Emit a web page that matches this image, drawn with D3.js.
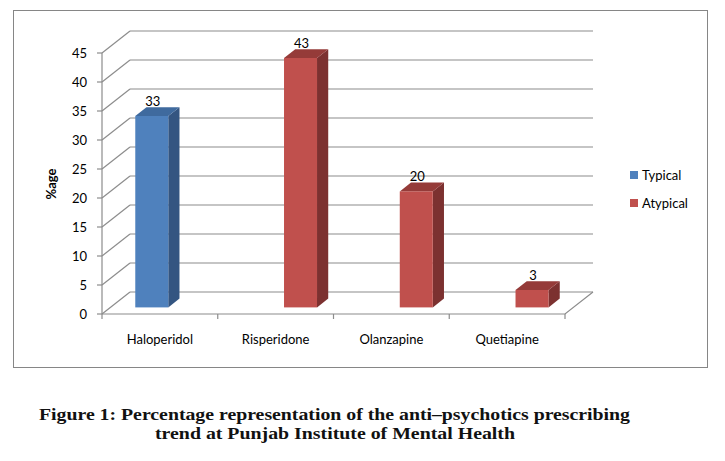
<!DOCTYPE html>
<html>
<head>
<meta charset="utf-8">
<script src="https://cdn.jsdelivr.net/npm/d3@7"></script>
<style>
  body { margin: 0; background: #fff; }
  text { font-family: Lato, "Open Sans", sans-serif; }
</style>
</head>
<body>
<div id="chart"></div>
<script>
const canvas = { w: 725, h: 461 };

// data
const categories = ["Haloperidol", "Risperidone", "Olanzapine", "Quetiapine"];
const series = ["Typical", "Atypical"];
const barSeries = ["Typical", "Atypical", "Atypical", "Atypical"];
const values = [33, 43, 20, 3];
const yTicks = [0, 5, 10, 15, 20, 25, 30, 35, 40, 45];
const captionLines = [
  "Figure 1: Percentage representation of the anti–psychotics prescribing",
  "trend at Punjab Institute of Mental Health"
];

const colors = {
  Typical: { front: "#4F81BD", top: "#3F6A9E", side: "#345581" },
  Atypical: { front: "#C0504D", top: "#953B39", side: "#7C3130" }
};

const fs = 13; // label font size

// 3d depth of the plot box
const depth = { dx: 28, dy: -22 };
const barZ = [0.3, 0.7];

const x = d3.scaleBand()
  .domain(categories)
  .range([102, 565]);

const slot = d3.scaleBand()
  .domain(series)
  .range([x.bandwidth() / 2 - 33, x.bandwidth() / 2 + 33]);

const y = d3.scaleLinear()
  .domain([0, 45])
  .range([314, 53]);

// screen position of (front x, value, depth fraction)
const P = (px, v, z) => [px + depth.dx * z, y(v) + depth.dy * z];

const svg = d3.select("#chart")
  .append("svg")
  .attr("width", canvas.w)
  .attr("height", canvas.h);

// chart border
svg.append("rect")
  .attr("x", 13.5).attr("y", 10.5)
  .attr("width", 694).attr("height", 357)
  .attr("fill", "#fff")
  .attr("stroke", "#868686");

const grid = svg.append("g")
  .attr("stroke", "#8c8c8c")
  .attr("stroke-width", 1.2)
  .attr("fill", "none");

const x0 = x.range()[0], x1 = x.range()[1];

// back wall gridlines + side wall diagonals
yTicks.forEach(t => {
  const a = P(x0, t, 1), b = P(x1, t, 1), c = P(x0, t, 0);
  grid.append("line")
    .attr("x1", a[0]).attr("y1", a[1])
    .attr("x2", b[0]).attr("y2", b[1]);
  grid.append("line")
    .attr("x1", c[0]).attr("y1", c[1])
    .attr("x2", a[0]).attr("y2", a[1]);
});

// floor front edge and right edge
const f0 = P(x0, 0, 0), f1 = P(x1, 0, 0), f2 = P(x1, 0, 1);
grid.append("path")
  .attr("d", `M${f0}L${f1}L${f2}`);

// y axis line and ticks
grid.append("line")
  .attr("x1", x0).attr("y1", y(45))
  .attr("x2", x0).attr("y2", y(0));
yTicks.forEach(t => {
  grid.append("line")
    .attr("x1", x0 - 5).attr("y1", y(t))
    .attr("x2", x0).attr("y2", y(t));
});

// category ticks
categories.concat([null]).forEach((c, i) => {
  const px = x0 + i * x.step();
  grid.append("line")
    .attr("x1", px).attr("y1", y(0))
    .attr("x2", px).attr("y2", y(0) + 5);
});

// y tick labels
svg.append("g")
  .selectAll("text")
  .data(yTicks)
  .join("text")
  .attr("x", 87)
  .attr("y", d => y(d) + 4.5)
  .attr("text-anchor", "end")
  .attr("font-size", fs)
  .attr("fill", "#000")
  .text(d => d);

// category labels
svg.append("g")
  .selectAll("text")
  .data(categories)
  .join("text")
  .attr("x", d => x(d) + x.bandwidth() / 2)
  .attr("y", 344)
  .attr("text-anchor", "middle")
  .attr("font-size", fs)
  .attr("fill", "#000")
  .text(d => d);

// y axis title
svg.append("text")
  .attr("transform", "translate(56,184) rotate(-90)")
  .attr("text-anchor", "middle")
  .attr("font-size", fs)
  .attr("font-weight", "bold")
  .attr("fill", "#000")
  .text("%age");

// bars
const bars = svg.append("g")
  .selectAll("g")
  .data(categories.map((c, i) => ({ cat: c, s: barSeries[i], v: values[i] })))
  .join("g");

bars.each(function (d) {
  const g = d3.select(this);
  const l = x(d.cat) + slot(d.s);
  const r = l + slot.bandwidth();
  const c = colors[d.s];
  const [z0, z1] = barZ;
  const pts = (arr) => arr.map(p => p.join(",")).join(" ");

  // side face
  g.append("polygon")
    .attr("points", pts([P(r, 0, z0), P(r, d.v, z0), P(r, d.v, z1), P(r, 0, z1)]))
    .attr("fill", c.side);
  // top face
  g.append("polygon")
    .attr("points", pts([P(l, d.v, z0), P(r, d.v, z0), P(r, d.v, z1), P(l, d.v, z1)]))
    .attr("fill", c.top);
  // front face
  const fl = P(l, d.v, z0), fr = P(r, 0, z0);
  g.append("rect")
    .attr("x", fl[0]).attr("y", fl[1])
    .attr("width", fr[0] - fl[0])
    .attr("height", fr[1] - fl[1])
    .attr("fill", c.front);

  // data label
  const top = P(l, d.v, z1);
  g.append("text")
    .attr("x", (fl[0] + fr[0]) / 2 + 1)
    .attr("y", top[1] - 1.5)
    .attr("text-anchor", "middle")
    .attr("font-size", fs)
    .attr("fill", "#000")
    .text(d.v);
});

// legend
const legend = svg.append("g")
  .selectAll("g")
  .data(series)
  .join("g")
  .attr("transform", (d, i) => `translate(630,${171 + i * 28})`);

legend.append("rect")
  .attr("width", 8).attr("height", 8)
  .attr("fill", d => colors[d].front);

legend.append("text")
  .attr("x", 12).attr("y", 8.5)
  .attr("font-size", fs)
  .attr("fill", "#000")
  .text(d => d);

// caption
const capPos = [
  { x: 39, y: 420, w: 591 },
  { x: 155, y: 439, w: 360 }
];
svg.append("g")
  .selectAll("text")
  .data(captionLines)
  .join("text")
  .attr("x", (d, i) => capPos[i].x)
  .attr("y", (d, i) => capPos[i].y)
  .attr("textLength", (d, i) => capPos[i].w)
  .attr("lengthAdjust", "spacingAndGlyphs")
  .attr("font-size", 17)
  .attr("font-weight", "bold")
  .attr("fill", "#111")
  .style("font-family", "'Liberation Serif', 'DejaVu Serif', serif")
  .text(d => d);
</script>
</body>
</html>
